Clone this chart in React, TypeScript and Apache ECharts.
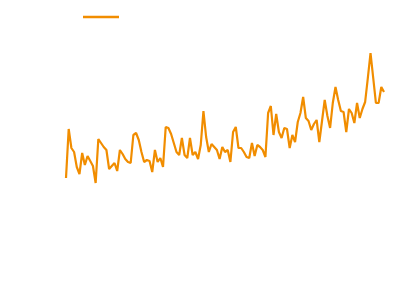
import React, { useEffect, useRef } from "react";
import * as echarts from "echarts";

const startYear = 1880;
const values: number[] = [
  -0.28, 0.21, 0.02, -0.02, -0.17, -0.24, -0.03, -0.15, -0.06, -0.11,
  -0.16, -0.33, 0.11, 0.07, 0.03, 0.0, -0.19, -0.16, -0.13, -0.21,
  0.0, -0.04, -0.09, -0.12, -0.13, 0.15, 0.17, 0.1, -0.02, -0.12,
  -0.1, -0.11, -0.22, 0.0, -0.12, -0.08, -0.17, 0.23, 0.22, 0.16,
  0.07, -0.02, -0.05, 0.12, -0.05, -0.08, 0.12, -0.05, -0.02, -0.09,
  0.05, 0.39, 0.13, -0.02, 0.06, 0.03, 0.0, -0.09, 0.03, -0.02,
  0.0, -0.12, 0.18, 0.23, 0.02, 0.02, -0.02, -0.07, -0.08, 0.07,
  -0.06, 0.05, 0.03, 0.0, -0.07, 0.37, 0.44, 0.15, 0.36, 0.18,
  0.12, 0.22, 0.21, 0.02, 0.15, 0.08, 0.28, 0.37, 0.53, 0.32,
  0.29, 0.2, 0.26, 0.3, 0.08, 0.29, 0.5, 0.34, 0.22, 0.47,
  0.63, 0.5, 0.39, 0.38, 0.18, 0.41, 0.37, 0.27, 0.47, 0.32,
  0.41, 0.48, 0.72, 0.97, 0.72, 0.47, 0.47, 0.63, 0.58,
];
const years: string[] = values.map((_, i) => String(startYear + i));
const seriesName = " ";

export default function App() {
  const ref = useRef<HTMLDivElement>(null);
  useEffect(() => {
    if (!ref.current) return;
    const chart = echarts.init(ref.current, null, { renderer: "svg" });
    chart.setOption({
      animation: false,
      legend: {
        left: 83,
        top: 11,
        padding: 0,
        icon: "rect",
        itemWidth: 36,
        itemHeight: 2.5,
        itemGap: 0,
        textStyle: { fontSize: 12 },
        data: [seriesName],
      },
      grid: { left: 66, right: 16, top: 0, bottom: 0 },
      xAxis: {
        type: "category",
        data: years,
        boundaryGap: false,
        show: false,
      },
      yAxis: {
        type: "value",
        min: -1.32,
        max: 1.5,
        show: false,
      },
      series: [
        {
          name: seriesName,
          type: "line",
          data: values,
          symbol: "none",
          showSymbol: false,
          lineStyle: { color: "#f18d00", width: 2.2 },
          itemStyle: { color: "#f18d00" },
        },
      ],
    });
    return () => chart.dispose();
  }, []);
  return (
    <div
      ref={ref}
      style={{ position: "absolute", left: 0, top: 0, width: 400, height: 282 }}
    />
  );
}
